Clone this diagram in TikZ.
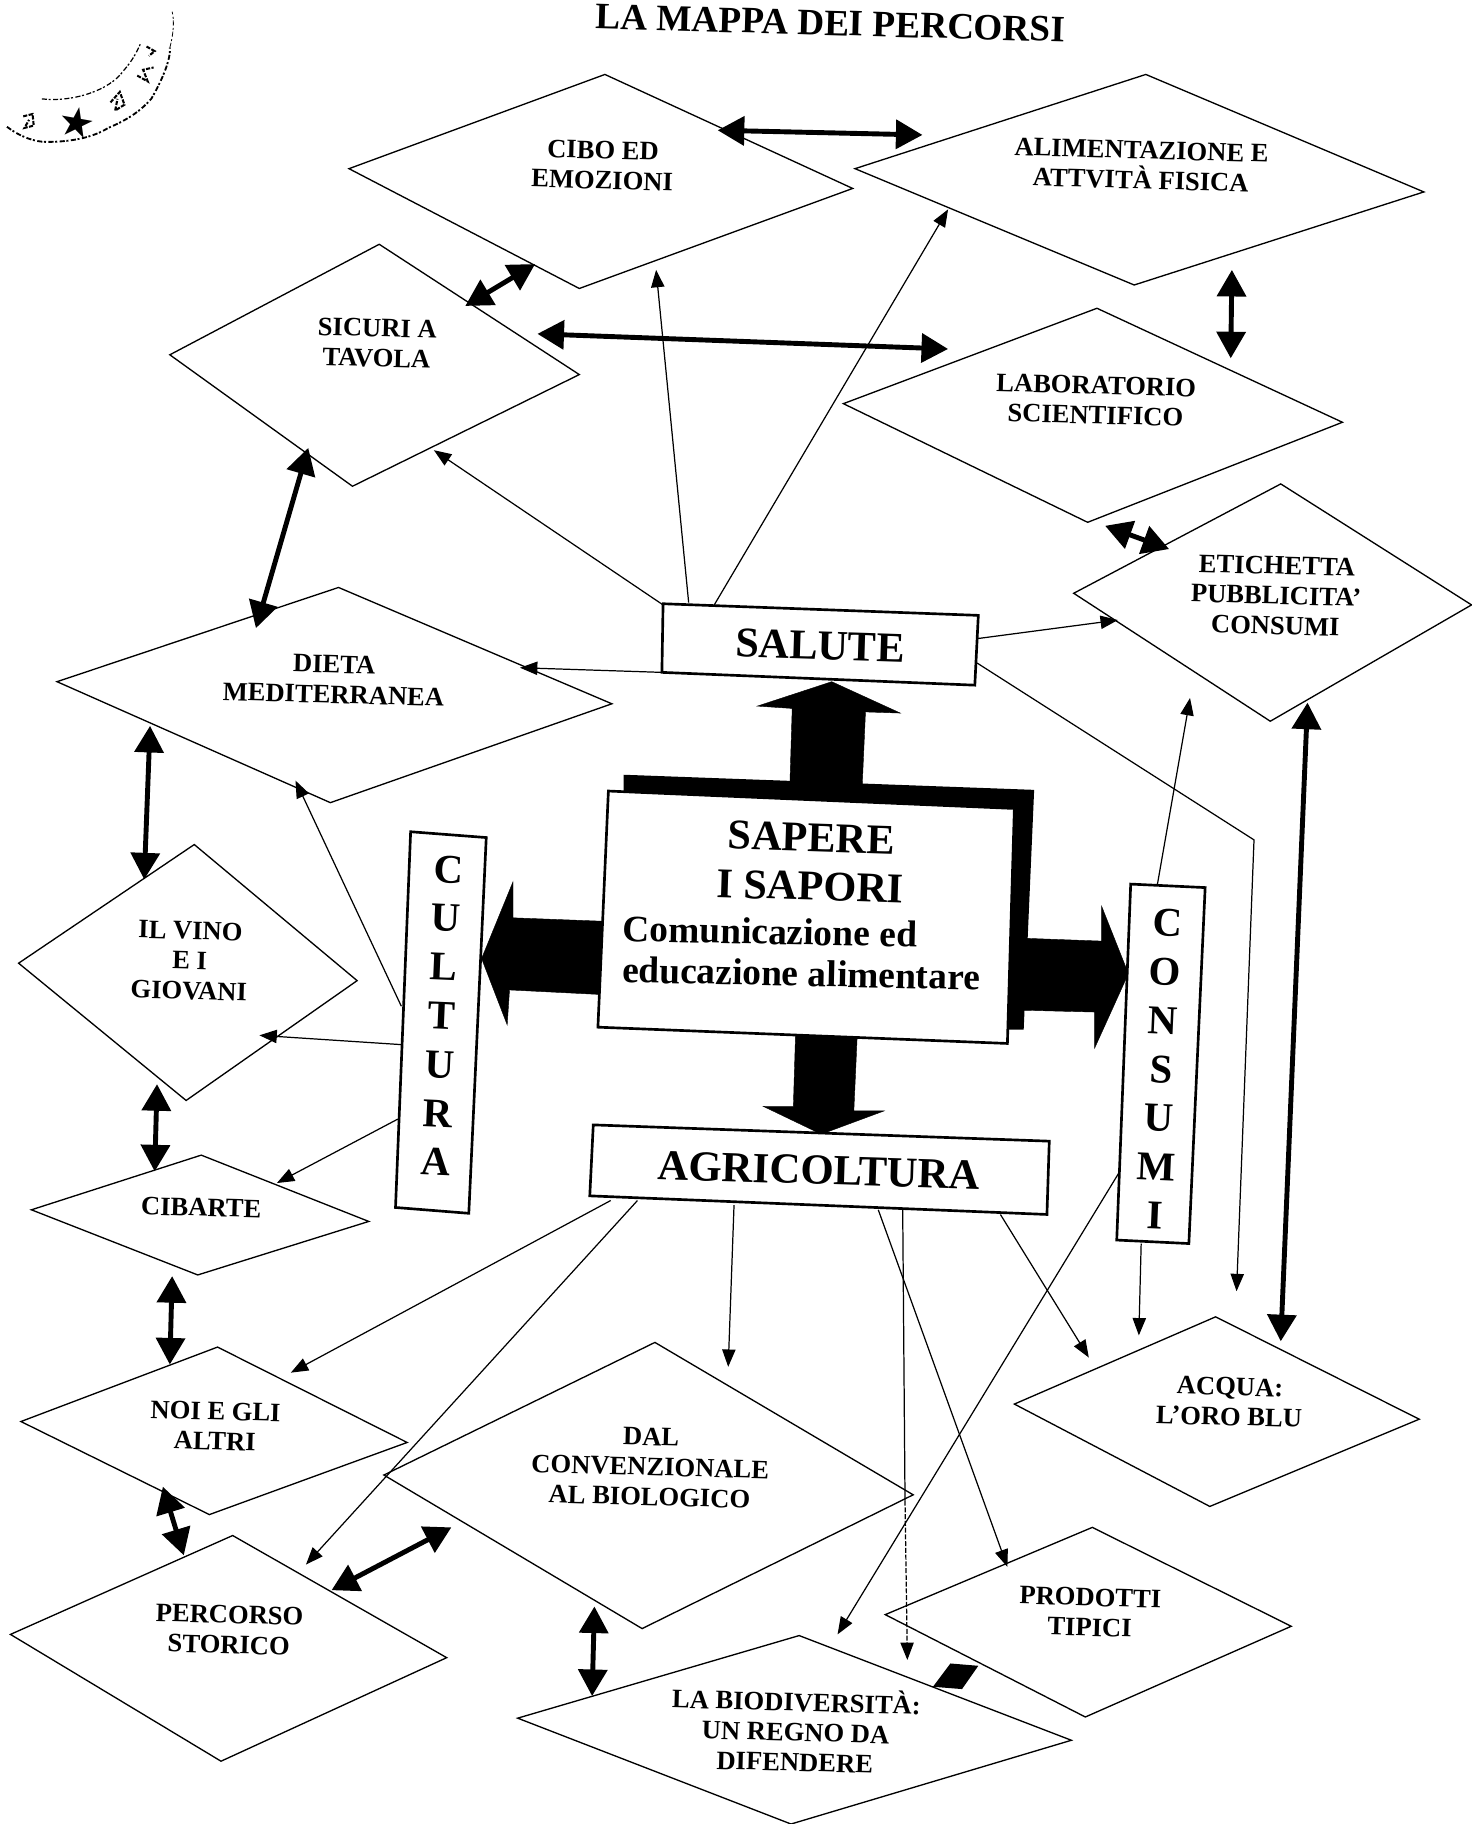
\documentclass[tikz,border=0pt]{standalone}
\usepackage{fontspec}
\setmainfont{Liberation Serif}
\newfontfamily\symfont{DejaVu Sans}
\usetikzlibrary{arrows.meta}
\tikzset{
  shapeline/.style={draw=black,line width=0.65pt,line join=miter,fill=white},
  boxline/.style={draw=black,line width=1.3pt,fill=white,line join=miter},
  bigarrow/.style={fill=black,draw=black,line width=0.2pt},
  linkthin/.style={draw=black,line width=0.6pt,-{Triangle[length=8.5pt,width=6.5pt]}},
  linkthick/.style={draw=black,line width=2.4pt,{Triangle[length=13pt,width=14pt]}-{Triangle[length=13pt,width=14pt]}},
  lab/.style={font=\bfseries\fontsize{13}{14.7}\selectfont,align=center,rotate=-1.6,inner sep=0pt},
  boxlab/.style={font=\bfseries\fontsize{20.7}{24}\selectfont,align=center,rotate=-1.8,inner sep=0pt},
  columnlab/.style={font=\bfseries\fontsize{20}{23.9}\selectfont,align=center,rotate=-2.5,inner sep=0pt},
  stampline/.style={draw=black,line width=0.6pt,dash pattern=on 2.5pt off 0.8pt on 1pt off 1.2pt},
  stampbit/.style={draw=black,line width=1pt,dash pattern=on 2pt off 0.7pt},
}
\begin{document}
\begin{tikzpicture}[x=0.02cm,y=-0.02cm]
\useasboundingbox (0,0) rectangle (1265,1568);
\fill[white] (0,0) rectangle (1265,1568);

% Stamp
\draw[stampline] (36,85) .. controls (62,88) and (94,78) .. (106,61) .. controls (114,52) and (118,44) .. (121,37);
\draw[stampline,line width=0.9pt] (6,109) .. controls (18,118) and (30,122) .. (40,122) .. controls (62,122) and (80,118) .. (93,110) .. controls (112,102) and (122,94) .. (130,85) .. controls (140,68) and (147,50) .. (146,41);
\draw[stampline,line width=0.4pt] (146,41) .. controls (149,30) and (150,18) .. (148,10);
\node[rotate=-10,inner sep=0pt] (stampstar) at (66,105) {\symfont\fontsize{20}{20}\selectfont ★};
\draw[stampbit] (20,100) -- (28,98) -- (29,108) -- (21,110) -- (25,103);
\draw[stampbit] (95,88) -- (103,79) -- (107,90) -- (99,95) -- (101,85);
\draw[stampbit] (118,65) -- (127,70) -- (123,60) -- (132,58);
\draw[stampbit] (126,40) -- (133,44) -- (128,48);

% Title
\node[font=\bfseries\fontsize{18.2}{20}\selectfont,rotate=-1.6,inner sep=0pt] (title) at (714,20) {LA MAPPA DEI PERCORSI};

% Diamonds
\draw[shapeline] (520,64) -- (733,162) -- (498,248) -- (300,145) -- cycle;
\draw[shapeline] (985,64) -- (1224,165) -- (975,245) -- (735,145) -- cycle;
\draw[shapeline] (326,210) -- (498,322) -- (303,418) -- (146,305) -- cycle;
\draw[shapeline] (943,265) -- (1154,363) -- (935,449) -- (725,347) -- cycle;
\draw[shapeline] (1101,416) -- (1265,520) -- (1092,620) -- (923,510) -- cycle;
\draw[shapeline] (291,505) -- (526,605) -- (284,690) -- (49,586) -- cycle;
\draw[shapeline] (167,726) -- (307,843) -- (160,946) -- (16,828) -- cycle;
\draw[shapeline] (173,993) -- (317,1050) -- (170,1096) -- (27,1040) -- cycle;
\draw[shapeline] (187,1158) -- (350,1240) -- (180,1302) -- (18,1222) -- cycle;
\draw[shapeline] (200,1320) -- (384,1425) -- (190,1514) -- (9,1405) -- cycle;
\draw[shapeline] (563,1154) -- (785,1285) -- (552,1400) -- (330,1268) -- cycle;
\draw[shapeline] (939,1313) -- (1110,1398) -- (933,1476) -- (761,1388) -- cycle;
\draw[shapeline] (687,1406) -- (921,1496) -- (680,1568) -- (445,1477) -- cycle;
\draw[shapeline] (1045,1132) -- (1220,1220) -- (1040,1295) -- (872,1207) -- cycle;

% Diamond labels
\node[lab] (cibo) at (518,142) {CIBO ED\\EMOZIONI};
\node[lab] (alim) at (981,142) {ALIMENTAZIONE E\\ATTVITÀ FISICA};
\node[lab] (sicuri) at (324,295) {SICURI A\\TAVOLA};
\node[lab] (labsci) at (942,344) {LABORATORIO\\SCIENTIFICO};
\node[lab] (etich) at (1097,512) {ETICHETTA\\PUBBLICITA’\\CONSUMI};
\node[lab] (dieta) at (287,584) {DIETA\\MEDITERRANEA};
\node[lab] (vino) at (163,826) {IL VINO\\E I\\GIOVANI};
\node[lab] (cibarte) at (173,1038) {CIBARTE};
\node[lab] (noi) at (185,1226) {NOI E GLI\\ALTRI};
\node[lab] (percorso) at (197,1401) {PERCORSO\\STORICO};
\node[lab] (dal) at (559,1261) {DAL\\CONVENZIONALE\\AL BIOLOGICO};
\node[lab] (prodotti) at (937,1386) {PRODOTTI\\TIPICI};
\node[lab] (biodiv) at (684,1487) {LA BIODIVERSITÀ:\\UN REGNO DA\\DIFENDERE};
\node[lab] (acqua) at (1057,1205) {ACQUA:\\L’ORO BLU};

% Big arrows and shadow
\fill[black] (536,666) -- (889,679) -- (880,885) -- (860,885) -- (860,700) -- (536,690) -- cycle;
\path[bigarrow] (679,675) -- (681,609) -- (651,607) -- (715,586) -- (774,613) -- (744,612) -- (741,680) -- cycle;
\path[bigarrow] (520,792) -- (441,789) -- (441,758) -- (414,824) -- (436,881) -- (438,851) -- (518,855) -- cycle;
\path[bigarrow] (865,806) -- (947,809) -- (947,779) -- (970,837) -- (941,901) -- (941,870) -- (862,868) -- cycle;
\path[bigarrow] (684,885) -- (682,951) -- (656,951) -- (706,975) -- (760,955) -- (734,955) -- (737,888) -- cycle;

% Boxes
\draw[boxline] (523,680) -- (872,695) -- (866,897) -- (514,883) -- cycle;
\draw[boxline] (570,519) -- (841,529) -- (838,589) -- (569,578) -- cycle;
\draw[boxline] (510,967) -- (902,981) -- (900,1044) -- (507,1028) -- cycle;
\draw[boxline] (353,715) -- (418,720) -- (403,1043) -- (340,1038) -- cycle;
\draw[boxline] (972,760) -- (1036,763) -- (1022,1069) -- (960,1066) -- cycle;

% Box labels
\node[boxlab] (sapere) at (697,741) {SAPERE\\I SAPORI};
\node[font=\bfseries\fontsize{18.3}{20.2}\selectfont,rotate=-1.2,inner sep=0pt,align=left] (comunic) at (689,819) {Comunicazione ed\\educazione alimentare};
\node[boxlab] (salute) at (705,555) {SALUTE};
\node[boxlab,font=\bfseries\fontsize{21}{24}\selectfont] (agri) at (704,1006) {AGRICOLTURA};
\node[columnlab] (cultura) at (380,873) {C\\U\\L\\T\\U\\R\\A};
\node[columnlab] (consumi) at (998,919) {C\\O\\N\\S\\U\\M\\I};

% Connector ends
\coordinate (sA) at (569,578); \coordinate (sDieta) at (447,574);
\coordinate (sB) at (570,520); \coordinate (sSicuri) at (373,387);
\coordinate (sC) at (592,518); \coordinate (sCibo) at (564,232);
\coordinate (sD) at (614,520); \coordinate (sAlim) at (815,180);
\coordinate (sE) at (840,549); \coordinate (sEtich) at (961,533);
\coordinate (sF) at (840,570); \coordinate (sBend) at (1078,722); \coordinate (sAcqua) at (1063,1110);
\coordinate (coA) at (995,760); \coordinate (coEtich) at (1023,600);
\coordinate (coB) at (981,1069); \coordinate (coAcqua) at (979,1148);
\coordinate (coC) at (962,1008); \coordinate (coBio) at (720,1405);
\coordinate (cuA) at (345,865); \coordinate (cuDieta) at (254,671);
\coordinate (cuB) at (345,898); \coordinate (cuVino) at (223,890);
\coordinate (cuC) at (342,962); \coordinate (cuCib) at (238,1017);
\coordinate (aA) at (525,1032); \coordinate (aNoi) at (250,1180);
\coordinate (aB) at (548,1032); \coordinate (aPerc) at (263,1345);
\coordinate (aC) at (631,1036); \coordinate (aDal) at (626,1175);
\coordinate (aD) at (755,1040); \coordinate (aProd) at (866,1347);
\coordinate (aE) at (776,1040); \coordinate (aEmid) at (778,1290); \coordinate (aBio) at (780,1427);
\coordinate (aF) at (860,1044); \coordinate (aAcqua) at (936,1167);

% Thin connectors
\draw[linkthin] (sA) -- (sDieta);
\draw[linkthin] (sB) -- (sSicuri);
\draw[linkthin] (sC) -- (sCibo);
\draw[linkthin] (sD) -- (sAlim);
\draw[linkthin] (sE) -- (sEtich);
\draw[linkthin] (sF) -- (sBend) -- (sAcqua);
\draw[linkthin] (coA) -- (coEtich);
\draw[linkthin] (coB) -- (coAcqua);
\draw[linkthin] (coC) -- (coBio);
\draw[linkthin] (cuA) -- (cuDieta);
\draw[linkthin] (cuB) -- (cuVino);
\draw[linkthin] (cuC) -- (cuCib);
\draw[linkthin] (aA) -- (aNoi);
\draw[linkthin] (aB) -- (aPerc);
\draw[linkthin] (aC) -- (aDal);
\draw[linkthin] (aD) -- (aProd);
\draw[draw=black,line width=0.6pt] (aE) -- (aEmid);
\draw[linkthin,dash pattern=on 2.5pt off 0.8pt] (aEmid) -- (aBio);
\draw[linkthin] (aF) -- (aAcqua);

% Thick connector ends
\coordinate (t1a) at (617,112); \coordinate (t1b) at (793,116);
\coordinate (t2a) at (400,263); \coordinate (t2b) at (460,227);
\coordinate (t3a) at (462,287); \coordinate (t3b) at (815,300);
\coordinate (t4a) at (1059,232); \coordinate (t4b) at (1058,308);
\coordinate (t5a) at (950,452); \coordinate (t5b) at (1005,472);
\coordinate (t6a) at (1124,604); \coordinate (t6b) at (1101,1153);
\coordinate (t7a) at (265,385); \coordinate (t7b) at (220,540);
\coordinate (t8a) at (129,624); \coordinate (t8b) at (124,756);
\coordinate (t9a) at (135,932); \coordinate (t9b) at (133,1007);
\coordinate (t10a) at (148,1097); \coordinate (t10b) at (146,1173);
\coordinate (t11a) at (140,1278); \coordinate (t11b) at (158,1337);
\coordinate (t12a) at (285,1367); \coordinate (t12b) at (388,1313);
\coordinate (t13a) at (511,1381); \coordinate (t13b) at (509,1458);

\foreach \n in {1,...,13} {\draw[linkthick] (t\n a) -- (t\n b);}

% Squashed arrow between Prodotti tipici and La biodiversita
\fill[black] (802,1450) -- (817,1430) -- (841,1432) -- (827,1452) -- cycle;
\end{tikzpicture}
\end{document}
